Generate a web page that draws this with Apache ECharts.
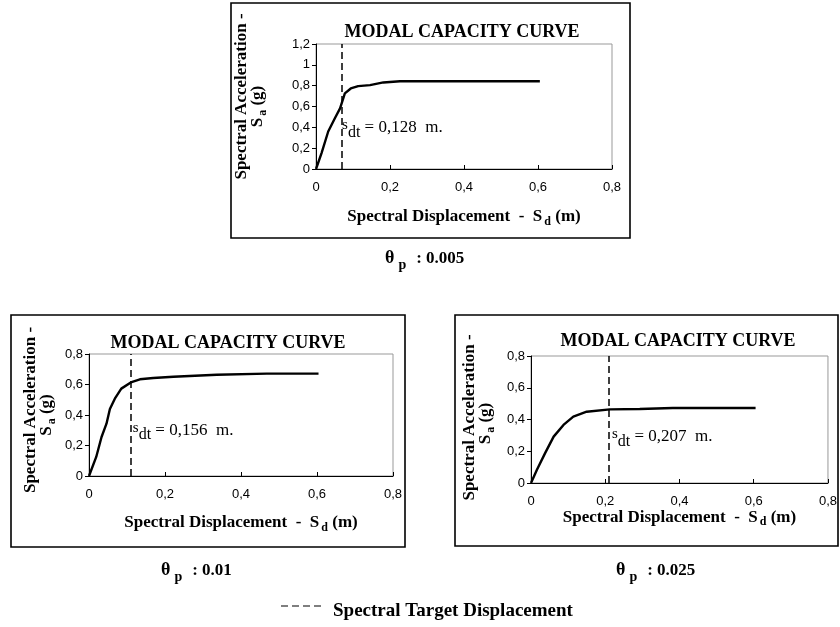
<!DOCTYPE html>
<html>
<head>
<meta charset="utf-8">
<script src="https://cdn.jsdelivr.net/npm/echarts@6/dist/echarts.min.js"></script>
<style>
  html, body { margin: 0; padding: 0; background: #fff; }
  #main { width: 840px; height: 627px; }
</style>
</head>
<body>
<div id="main"></div>
<script>
// capacity curves (Sd in m, Sa in g)
var dispA = [0, 0.015, 0.033, 0.051, 0.065, 0.078, 0.094, 0.114, 0.146, 0.182, 0.227, 0.40, 0.605];
var accA  = [0, 0.153, 0.36, 0.487, 0.582, 0.726, 0.773, 0.796, 0.805, 0.831, 0.843, 0.843, 0.843];

var dispB = [0, 0.019, 0.033, 0.046, 0.055, 0.068, 0.085, 0.112, 0.134, 0.169, 0.222, 0.336, 0.468, 0.604];
var accB  = [0, 0.125, 0.256, 0.343, 0.44, 0.507, 0.573, 0.616, 0.634, 0.643, 0.651, 0.664, 0.671, 0.671];

var dispC = [0, 0.016, 0.038, 0.061, 0.0875, 0.114, 0.15, 0.2125, 0.293, 0.382, 0.605];
var accC  = [0, 0.084, 0.188, 0.292, 0.366, 0.418, 0.449, 0.464, 0.466, 0.472, 0.472];

// target displacement lines and their labels
var targetX = [0.065, 0.11, 0.2125];
var labelY = [0.40, 0.30, 0.29];
var targetText = ['0,128', '0,156', '0,207'];
var thetaP = ['0.005', '0.01', '0.025'];
var yMax = [1.2, 0.8, 0.8];

var serif = '"Liberation Serif", "DejaVu Serif", serif';
var sans = '"Liberation Sans", Arial, sans-serif';

var chart = echarts.init(document.getElementById('main'));

function pairs(xs, ys) {
	var out = [];
	for (var i = 0; i < xs.length; i++) out.push([xs[i], ys[i]]);
	return out;
}
var curves = [pairs(dispA, accA), pairs(dispB, accB), pairs(dispC, accC)];

// layout of the three panels
var grids = [
	{ left: 316, top: 44, width: 296, height: 125 },
	{ left: 89, top: 354, width: 304, height: 122 },
	{ left: 531, top: 356, width: 298, height: 127 }
];
var xNameGap = [37, 36, 19];
var yNameGap = [50, 34, 37];
var yNameShift = [[20, 0], [10, 0], [4, 8]]; // nudges for the two lines of the y name
var boxes = [[231, 3, 399, 235], [11, 315, 394, 232], [455, 315, 383, 231]];
var titlePos = [[457, 18], [223, 329], [673, 327]];
var thetaPos = [[385, 245], [161, 557], [616, 557]];

var fmt = function (v) { return String(v).replace('.', ','); };

function nameRich(p1, p2) {
	return {
		b: { fontFamily: serif, fontWeight: 'bold', fontSize: 17, color: '#000' },
		l1: { fontFamily: serif, fontWeight: 'bold', fontSize: 17, color: '#000', padding: [0, 0, 0, p1] },
		l2: { fontFamily: serif, fontWeight: 'bold', fontSize: 17, color: '#000', padding: [0, p2, 0, 0] },
		s: { fontFamily: serif, fontWeight: 'bold', fontSize: 12, color: '#000', padding: [10, 0, 0, 2] }
	};
}

var option = { animation: false, grid: [], xAxis: [], yAxis: [], series: [], title: [], graphic: [] };

for (var i = 0; i < 3; i++) {
	var g = grids[i];
	option.grid.push({
		left: g.left, top: g.top, width: g.width, height: g.height,
		show: true, borderColor: '#999', borderWidth: 1, backgroundColor: 'transparent'
	});
	option.xAxis.push({
		gridIndex: i, type: 'value', min: 0, max: 0.8, interval: 0.2,
		axisLine: { lineStyle: { color: '#000', width: 1 } },
		axisTick: { inside: true, length: 4, lineStyle: { color: '#000' } },
		splitLine: { show: false },
		axisLabel: { color: '#000', fontFamily: sans, fontSize: 13, margin: 12, formatter: fmt },
		name: '{b|Spectral Displacement  -  S}{s|d}{b| (m)}',
		nameLocation: 'middle', nameGap: xNameGap[i],
		nameTextStyle: { rich: nameRich(0, 0) }
	});
	option.yAxis.push({
		gridIndex: i, type: 'value', min: 0, max: yMax[i], interval: 0.2,
		axisLine: { show: true, lineStyle: { color: '#000', width: 1 } },
		axisTick: { show: true, length: 4, lineStyle: { color: '#000' } },
		splitLine: { show: false },
		axisLabel: { color: '#000', fontFamily: sans, fontSize: 13, margin: 6, formatter: fmt },
		name: '{l1|Spectral Acceleration -}\n{b|S}{s|a}{l2| (g)}',
		nameLocation: 'middle', nameRotate: 90, nameGap: yNameGap[i],
		nameTextStyle: { rich: nameRich(yNameShift[i][0], yNameShift[i][1]), lineHeight: 16 }
	});
	option.series.push({
		type: 'line', xAxisIndex: i, yAxisIndex: i,
		data: curves[i], showSymbol: false, symbol: 'none',
		lineStyle: { color: '#000', width: 2.4 },
		markLine: {
			silent: true, symbol: 'none',
			lineStyle: { color: '#000', type: [7, 4], width: 1.5 },
			label: { show: false },
			data: [{ xAxis: targetX[i] }]
		},
		markPoint: {
			silent: true, symbol: 'circle', symbolSize: 0,
			label: {
				show: true, position: 'right', distance: 2,
				formatter: '{s|s}{d|dt}{t| = ' + targetText[i] + '  m.}',
				rich: {
					s: { fontFamily: serif, fontSize: 15, color: '#000', padding: [0, 0, 5, 0] },
					d: { fontFamily: serif, fontSize: 16, color: '#000', padding: [10, 0, 0, 0] },
					t: { fontFamily: serif, fontSize: 17, color: '#000' }
				}
			},
			data: [{ coord: [targetX[i], labelY[i]] }]
		}
	});
	option.title.push({
		text: 'MODAL CAPACITY CURVE', left: titlePos[i][0], top: titlePos[i][1], textAlign: 'center',
		textStyle: { fontFamily: serif, fontWeight: 'bold', fontSize: 18, color: '#000' }
	});
	var b = boxes[i];
	option.graphic.push({
		type: 'rect', silent: true, z: -1,
		shape: { x: b[0], y: b[1], width: b[2], height: b[3] },
		style: { fill: 'none', stroke: '#000', lineWidth: 1.6 }
	});
	option.graphic.push({
		type: 'text', silent: true, x: thetaPos[i][0], y: thetaPos[i][1],
		style: {
			text: '{t|θ}{p|p}{v|: ' + thetaP[i] + '}',
			rich: {
				t: { fontFamily: serif, fontWeight: 'bold', fontSize: 18, color: '#000' },
				p: { fontFamily: serif, fontWeight: 'bold', fontSize: 14, color: '#000', padding: [13, 10, 0, 4] },
				v: { fontFamily: serif, fontWeight: 'bold', fontSize: 17, color: '#000' }
			}
		}
	});
}

// legend at the bottom
option.graphic.push({
	type: 'line', silent: true,
	shape: { x1: 281, y1: 606, x2: 323, y2: 606 },
	style: { stroke: '#000', lineWidth: 1.2, lineDash: [7, 4] }
});
option.graphic.push({
	type: 'text', silent: true, x: 333, y: 602,
	style: { text: 'Spectral Target Displacement', fontFamily: serif, fontWeight: 'bold', fontSize: 19, fill: '#000' }
});

chart.setOption(option);
window.onresize = chart.resize;
</script>
</body>
</html>
